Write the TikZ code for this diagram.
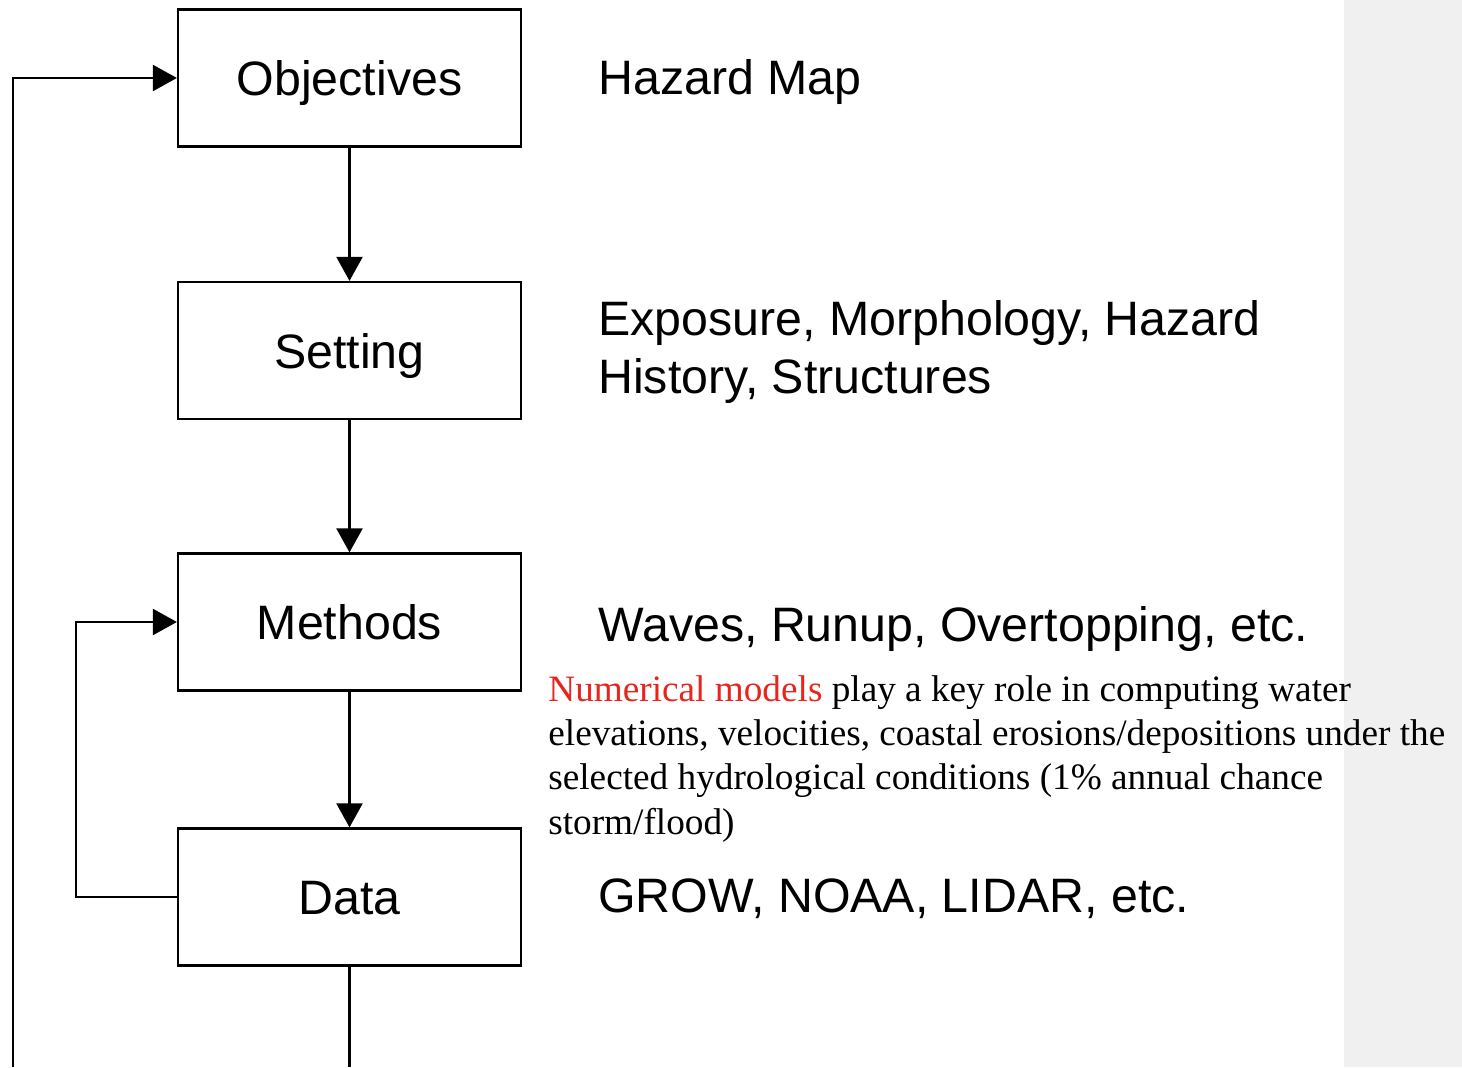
\documentclass[tikz,border=0pt]{standalone}
\usepackage{fontspec}
\setmainfont{Liberation Serif}
\setsansfont{Liberation Sans}
\usetikzlibrary{arrows.meta}
\definecolor{stripgray}{RGB}{240,240,240}
\definecolor{modelred}{RGB}{232,36,28}

\begin{document}
\begin{tikzpicture}[x=0.02cm, y=-0.02cm,
  box/.style={draw, line width=1.3pt, minimum width=6.86cm, minimum height=2.74cm,
    text height=20pt, text depth=0pt, font=\sffamily\fontsize{27.5}{33}\selectfont},
  note/.style={inner sep=0pt, align=left, font=\sffamily\fontsize{27.5}{33}\selectfont},
  arr/.style={line width=1.3pt, -{Triangle[width=0.52cm, length=0.48cm]}}]
\useasboundingbox (0,0) rectangle (1462,1067);
\fill[stripgray] (1344,0) rectangle (1462,1067);

% the four steps
\node[box] (obj) at (349.5,78) {Objectives};
\node[box] (setting) at (349.5,350.5) {Setting};
\node[box] (methods) at (349.5,622) {Methods};
\node[box] (data) at (349.5,897) {Data};

% what each step covers
\node[note, anchor=base west] (objnote) at (598,95) {Hazard Map};
\node[note, anchor=north west] (setnote) at (598,300) {Exposure, Morphology, Hazard\\History, Structures};
\node[note, anchor=base west] (methnote) at (598,641) {Waves, Runup, Overtopping, etc.};
\node[note, anchor=base west] (datanote) at (598,912) {GROW, NOAA, LIDAR, etc.};
\node[inner sep=0pt, anchor=north west, align=left, font=\fontsize{21.2}{25.2}\selectfont] (models) at (548,675)
  {\textcolor{modelred}{Numerical models} play a key role in computing water\\
   elevations, velocities, coastal erosions/depositions under the\\
   selected hydrological conditions (1\% annual chance\\
   storm/flood)};

% arrows
\coordinate (outerfoot) at (13,1067);
\coordinate (datafoot) at (349.5,1067);
\coordinate (innerturn) at (76,897);
\draw[arr] (obj) -- (setting);
\draw[arr] (setting) -- (methods);
\draw[arr] (methods) -- (data);
\draw[line width=1.3pt] (data) -- (datafoot);
\draw[arr] (outerfoot) |- (obj.west);
\draw[arr] (data.west) -- (innerturn) |- (methods.west);
\end{tikzpicture}
\end{document}
